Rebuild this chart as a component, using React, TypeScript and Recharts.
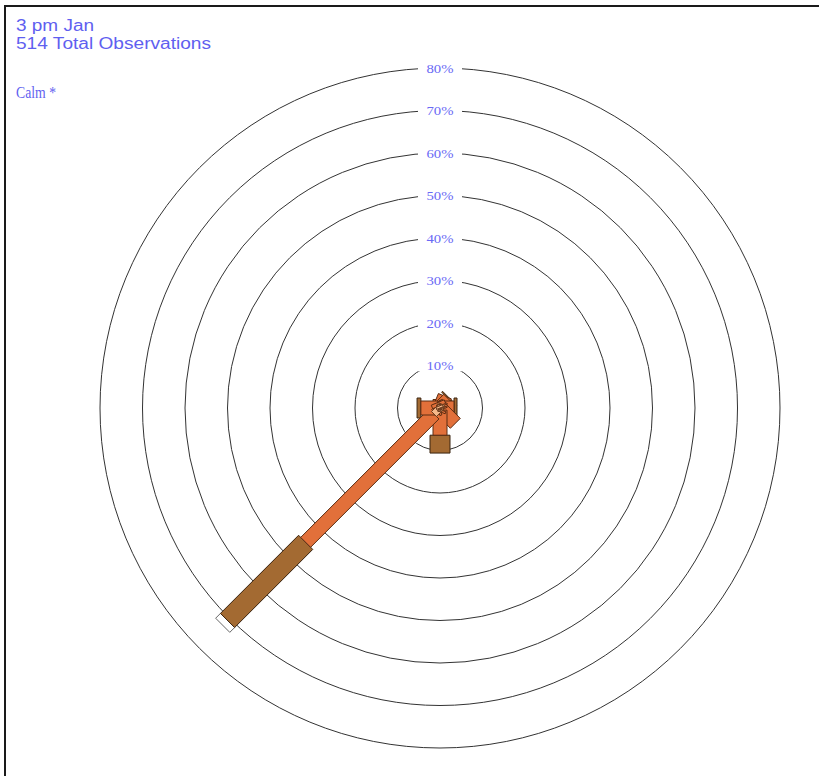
import { ScatterChart, Scatter, XAxis, YAxis, ReferenceLine } from "recharts";

// 3 pm January wind rose, % of observations by direction and speed class
const directions = ["N", "NNE", "NE", "ENE", "E", "ESE", "SE", "SSE", "S", "SSW", "SW", "WSW", "W", "WNW", "NW", "NNW"];
const speed1to10 = [0.7, 1.0, 0.7, 0.3, 0.4, 0.2, 0.3, 0.2, 0.5, 0.3, 2.0, 0.2, 0.5, 0.2, 0.3, 0.5];
const speed10to20 = [1.3, 2.0, 2.2, 1.0, 2.9, 1.0, 4.8, 0.3, 5.9, 0.5, 42.7, 0.5, 4.0, 0.3, 0.8, 0.9];
const speed20to30 = [0, 0, 0.3, 0, 0.7, 0, 0, 0, 4.2, 0, 26.0, 0, 0.9, 0, 0, 0];
const speed30to40 = [0, 0, 0, 0, 0, 0, 0, 0, 0, 0, 1.6, 0, 0, 0, 0, 0];
const ringLevels = [10, 20, 30, 40, 50, 60, 70, 80];

const titleLine = "3 pm Jan";
const totalObservations = 514;
const calmText = "Calm *";

const speedClasses = [speed1to10, speed10to20, speed20to30, speed30to40];
const classStyles = [
    { fill: "#f5b88a", width: 7, stroke: "#6b3a1c" },
    { fill: "#e2703a", width: 14, stroke: "#5a2c12" },
    { fill: "#a36a32", width: 20, stroke: "#3a2410" },
    { fill: "#ffffff", width: 20, stroke: "#666666" },
];

const BLUE = "#5f5ff0";
const SERIF = "'Liberation Serif', 'Times New Roman', serif";
const SANS = "'Liberation Sans', Arial, sans-serif";

function polar(angleDeg: number, r: number) {
    const a = (angleDeg * Math.PI) / 180;
    return { x: r * Math.sin(a), y: r * Math.cos(a) };
}

type Segment = {
    key: string;
    cls: number;
    from: { x: number; y: number };
    to: { x: number; y: number };
};

function buildSegments(): Segment[] {
    const segs: Segment[] = [];
    directions.forEach((dir, i) => {
        const angle = i * (360 / directions.length);
        let start = 0;
        speedClasses.forEach((values, k) => {
            const v = values[i];
            if (v <= 0) return;
            segs.push({
                key: `${dir}-${k}`,
                cls: k,
                from: polar(angle, start),
                to: polar(angle, start + v),
            });
            start += v;
        });
    });
    // outer classes first so the small inner pieces sit on top
    return segs.sort((a, b) => b.cls - a.cls);
}

function BarShape(props: any) {
    const { x1, y1, x2, y2, barWidth, fill, edge } = props;
    const dx = x2 - x1;
    const dy = y2 - y1;
    const len = Math.hypot(dx, dy) || 1;
    const nx = (-dy / len) * (barWidth / 2);
    const ny = (dx / len) * (barWidth / 2);
    const pts = [
        [x1 + nx, y1 + ny],
        [x2 + nx, y2 + ny],
        [x2 - nx, y2 - ny],
        [x1 - nx, y1 - ny],
    ]
        .map((p) => p.join(","))
        .join(" ");
    return <polygon points={pts} fill={fill} stroke={edge} strokeWidth={1} />;
}

function RingShape(props: any) {
    const { x1, y1, x2, y2, level } = props;
    const rx = Math.abs(x2 - x1);
    const ry = Math.abs(y1 - y2);
    const top = y1 - ry;
    return (
        <g>
            <ellipse cx={x1} cy={y1} rx={rx} ry={ry} fill="none" stroke="#333" strokeWidth={1} />
            <rect x={x1 - 22} y={top - 6} width={44} height={12} fill="#fff" />
            <text
                x={x1}
                y={top + 4.5}
                textAnchor="middle"
                fontFamily={SERIF}
                fontSize={13.5}
                fill="#6a6af5"
                textLength={27}
                lengthAdjust="spacingAndGlyphs"
            >
                {`${level}%`}
            </text>
        </g>
    );
}

export default function App() {
    const segments = buildSegments();

    return (
        <div style={{ position: "absolute", left: 0, top: 0, width: 819, height: 776, background: "#fff", overflow: "hidden" }}>
            {/* frame: top and left edges only */}
            <div style={{ position: "absolute", left: 4, top: 5, width: 815, height: 2, background: "#1a1a1a" }} />
            <div style={{ position: "absolute", left: 4, top: 5, width: 2, height: 771, background: "#1a1a1a" }} />

            {/* header */}
            <svg width={819} height={110} style={{ position: "absolute", left: 0, top: 0 }}>
                <text x={16} y={30.5} fontFamily={SANS} fontSize={16} fill={BLUE} textLength={78} lengthAdjust="spacingAndGlyphs">
                    {titleLine}
                </text>
                <text x={16} y={48.5} fontFamily={SANS} fontSize={16} fill={BLUE} textLength={195} lengthAdjust="spacingAndGlyphs">
                    {`${totalObservations} Total Observations`}
                </text>
                <text x={16} y={98} fontFamily={SERIF} fontSize={16.5} fill={BLUE} textLength={40} lengthAdjust="spacingAndGlyphs">
                    {calmText}
                </text>
            </svg>

            {/* rose */}
            <div style={{ position: "absolute", left: 83, top: 51, width: 714, height: 714 }}>
                <ScatterChart width={714} height={714} margin={{ top: 0, right: 0, bottom: 0, left: 0 }}>
                    <XAxis type="number" dataKey="x" domain={[-84, 84]} hide allowDataOverflow />
                    <YAxis type="number" dataKey="y" domain={[-84, 84]} hide allowDataOverflow />
                    <Scatter data={[{ x: 0, y: 0 }]} isAnimationActive={false} shape={() => <g />} />

                    {ringLevels.map((lv) => (
                        <ReferenceLine
                            key={`ring-${lv}`}
                            segment={[
                                { x: 0, y: 0 },
                                { x: lv, y: lv },
                            ]}
                            shape={(p: any) => <RingShape {...p} level={lv} />}
                        />
                    ))}

                    {segments.map((s) => {
                        const st = classStyles[s.cls];
                        return (
                            <ReferenceLine
                                key={s.key}
                                segment={[s.from, s.to]}
                                shape={(p: any) => (
                                    <BarShape {...p} barWidth={st.width} fill={st.fill} edge={st.stroke} />
                                )}
                            />
                        );
                    })}
                </ScatterChart>
            </div>
        </div>
    );
}
